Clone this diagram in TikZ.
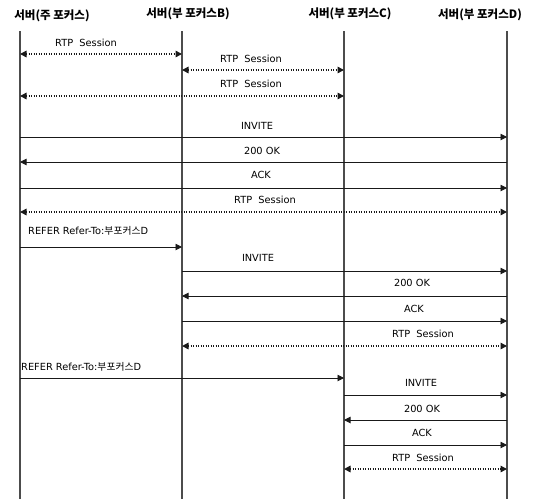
\documentclass[tikz,border=0pt]{standalone}
\usepackage{fontspec}
\setmainfont{DejaVu Sans}
\newfontfamily\kr{Noto Sans CJK KR}
\usetikzlibrary{arrows.meta}
\begin{document}
\begin{tikzpicture}[x=1pt,y=-1pt,
 life/.style={draw=black!70, line width=1.1pt},
 head/.style={font=\kr\bfseries\fontsize{11.5}{13}\selectfont, inner sep=0pt},
 msg/.style={draw=black!90, line width=0.9pt, -{Triangle[length=6.5pt,width=6.5pt]}},
 rtp/.style={draw=black!90, line width=1.5pt, dash pattern=on 1.3pt off 1.2pt, {Triangle[length=6.5pt,width=6.5pt]}-{Triangle[length=6.5pt,width=6.5pt]}},
 lbl/.style={font=\fontsize{9.8}{11}\selectfont, inner sep=0pt}]
\useasboundingbox (0,0) rectangle (535,499);
% headers
\node[head] (hA) at (52,16) {서버(주 포커스)};
\node[head] (hB) at (188,14) {서버(부 포커스B)};
\node[head] (hC) at (350,14) {서버(부 포커스C)};
\node[head] (hD) at (480,15) {서버(부 포커스D)};
% lifelines
\foreach \l/\x in {A/20,B/182,C/344,D/507}{
  \coordinate (t\l) at (\x,31);
  \coordinate (b\l) at (\x,499);
  \draw[life] (t\l) -- (b\l);
}
% message coordinates
\foreach \n/\y in {1/54,2/70,3/96,4/137,5/162,6/188,7/212,8/247,9/271,10/296,11/321,12/346,13/378,14/395,15/420,16/445,17/469}{
  \foreach \l/\x in {A/20,B/182,C/344,D/507}{
    \coordinate (\l\n) at (\x,\y);
  }
}
% messages
\draw[rtp] (A1) -- (B1);
\node[lbl] (l1) at (86,43) {RTP~~Session};
\draw[rtp] (B2) -- (C2);
\node[lbl] (l2) at (251,59) {RTP~~Session};
\draw[rtp] (A3) -- (C3);
\node[lbl] (l3) at (251,84) {RTP~~Session};
\draw[msg] (A4) -- (D4);
\node[lbl] (l4) at (257,126) {INVITE};
\draw[msg] (D5) -- (A5);
\node[lbl] (l5) at (262,151) {200 OK};
\draw[msg] (A6) -- (D6);
\node[lbl] (l6) at (261,175) {ACK};
\draw[rtp] (A7) -- (D7);
\node[lbl] (l7) at (265,200) {RTP~~Session};
\draw[msg] (A8) -- (B8);
\node[lbl, anchor=west] (l8) at (28,231) {REFER Refer-To:{\kr 부포커스}D};
\draw[msg] (B9) -- (D9);
\node[lbl] (l9) at (258,258) {INVITE};
\draw[msg] (D10) -- (B10);
\node[lbl] (l10) at (412,283) {200 OK};
\draw[msg] (B11) -- (D11);
\node[lbl] (l11) at (414,309) {ACK};
\draw[rtp] (B12) -- (D12);
\node[lbl] (l12) at (423,334) {RTP~~Session};
\draw[msg] (A13) -- (C13);
\node[lbl, anchor=west] (l13) at (21,367) {REFER Refer-To:{\kr 부포커스}D};
\draw[msg] (C14) -- (D14);
\node[lbl] (l14) at (421,383) {INVITE};
\draw[msg] (D15) -- (C15);
\node[lbl] (l15) at (422,409) {200 OK};
\draw[msg] (C16) -- (D16);
\node[lbl] (l16) at (422,433) {ACK};
\draw[rtp] (C17) -- (D17);
\node[lbl] (l17) at (423,458) {RTP~~Session};
\end{tikzpicture}
\end{document}
